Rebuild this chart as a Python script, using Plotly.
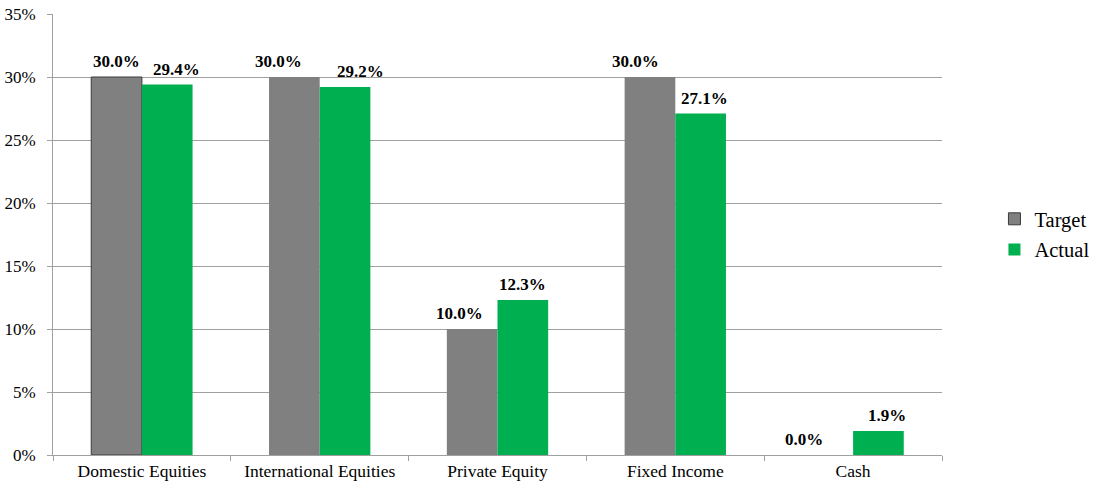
import plotly.graph_objects as go

categories = ["Domestic Equities", "International Equities", "Private Equity", "Fixed Income", "Cash"]
target = [30.0, 30.0, 10.0, 30.0, 0.0]
actual = [29.4, 29.2, 12.3, 27.1, 1.9]
y_ticks = [0, 5, 10, 15, 20, 25, 30, 35]
y_tick_labels = [f"{v}%" for v in y_ticks]

# style: horizontal nudges (px) of the data labels, as placed in the original
target_label_dx = [0, -16, -13, -14, -24]
actual_label_dx = [9, 15, 0, 4, 9]

font_family = "Liberation Serif"
W, H = 1094, 487
ML, MR, MT, MB = 53, 152, 14, 32
BARGAP = 0.43
label_lift = 4

fig = go.Figure()
fig.add_trace(go.Bar(
    name="Target", x=categories, y=target, legendgroup="t",
    marker=dict(color="#808080",
                line=dict(color=["#3a3a3a"] + ["#808080"] * 4, width=[1, 0, 0, 0, 0])),
))
fig.add_trace(go.Bar(
    name="Actual", x=categories, y=actual, legendgroup="a",
    marker=dict(color="#00B050", line=dict(width=0)),
))

cat_w = (W - ML - MR) / len(categories)
half_bar = cat_w * (1 - BARGAP) / 4
label_font = dict(family=font_family, size=17, color="black", weight="bold")
for cat, t, a, dxt, dxa in zip(categories, target, actual, target_label_dx, actual_label_dx):
    fig.add_annotation(x=cat, y=t, xref="x", yref="y", text=f"{t:.1f}%",
                       showarrow=False, yanchor="bottom", xanchor="center",
                       xshift=-half_bar + dxt, yshift=label_lift, font=label_font)
    fig.add_annotation(x=cat, y=a, xref="x", yref="y", text=f"{a:.1f}%",
                       showarrow=False, yanchor="bottom", xanchor="center",
                       xshift=half_bar + dxa, yshift=label_lift, font=label_font)

fig.update_layout(
    width=W, height=H,
    margin=dict(l=ML, r=MR, t=MT, b=MB, autoexpand=False),
    plot_bgcolor="white", paper_bgcolor="white",
    barmode="group", bargap=BARGAP, bargroupgap=0,
    font=dict(family=font_family, size=17, color="black"),
    legend=dict(x=1.059, y=0.5, xanchor="left", yanchor="middle",
                font=dict(size=20.5, family=font_family), tracegroupgap=1),
    showlegend=True,
)
fig.update_xaxes(
    automargin=False,
    showline=True, linecolor="#A0A0A0", linewidth=1,
    ticks="outside", tickson="boundaries", ticklen=5, tickcolor="#A0A0A0",
    tickfont=dict(size=17.5, family=font_family),
)
fig.update_yaxes(
    automargin=False,
    range=[0, 35], tickvals=y_ticks, ticktext=y_tick_labels,
    showgrid=True, gridcolor="#A0A0A0", gridwidth=1,
    showline=True, linecolor="#A0A0A0", linewidth=1,
    ticks="outside", ticklen=5, tickcolor="#A0A0A0", ticklabelstandoff=8,
    tickfont=dict(size=17, family=font_family), zeroline=False,
)

# remove the page's default body margin so the figure sits at the window origin
fig.write_html("out.html", config={"displayModeBar": False},
               post_script="document.body.style.margin='0';")
